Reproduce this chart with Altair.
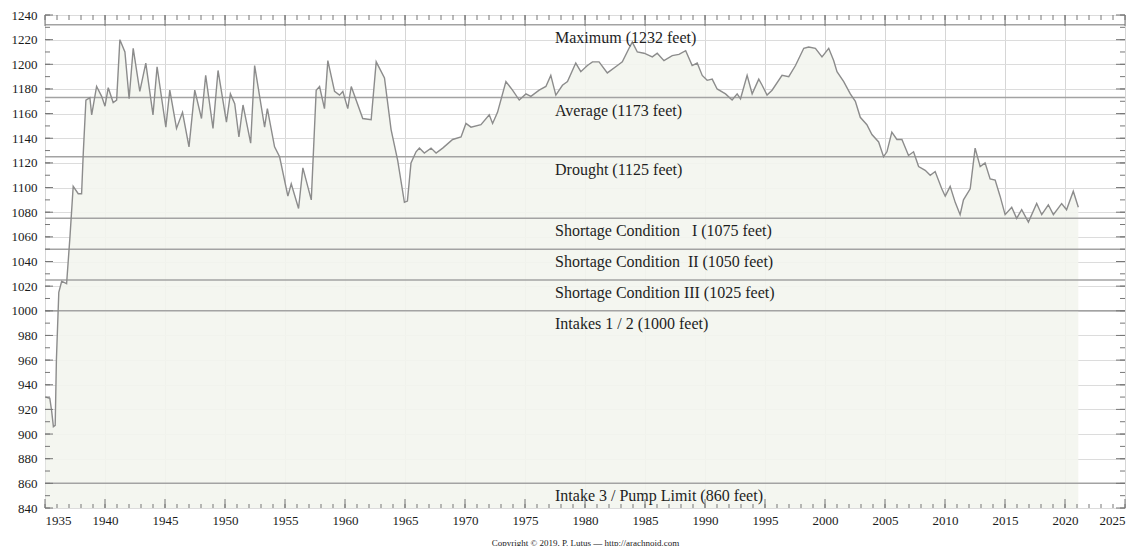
import altair as alt
import pandas as pd

# ---- data ----
years = [1935.05, 1935.4, 1935.55, 1935.7, 1935.85, 1935.95, 1936.15, 1936.39, 1936.8, 1937.08,
         1937.35, 1937.77, 1938.05, 1938.19, 1938.41, 1938.74, 1938.89, 1939.3, 1939.72, 1940.0,
         1940.27, 1940.68, 1940.97, 1941.24, 1941.66, 1942.01, 1942.35, 1942.9, 1943.4, 1944.0,
         1944.34, 1945.07, 1945.4, 1945.96, 1946.46, 1947.0, 1947.48, 1948.04, 1948.39, 1949.0,
         1949.42, 1950.12, 1950.45, 1950.81, 1951.16, 1951.5, 1952.14, 1952.47, 1953.3, 1953.53,
         1954.13, 1954.55, 1955.24, 1955.52, 1956.13, 1956.49, 1957.19, 1957.6, 1957.88, 1958.29,
         1958.57, 1959.13, 1959.54, 1959.82, 1960.23, 1960.52, 1961.48, 1962.18, 1962.6, 1963.29,
         1963.84, 1964.39, 1964.95, 1965.2, 1965.5, 1965.92, 1966.2, 1966.61, 1967.17, 1967.59,
         1968.14, 1968.97, 1969.67, 1970.08, 1970.5, 1971.33, 1972.02, 1972.3, 1972.71, 1973.41,
         1973.96, 1974.52, 1975.08, 1975.49, 1976.18, 1976.74, 1977.15, 1977.57, 1978.12, 1978.54,
         1979.23, 1979.65, 1980.2, 1980.62, 1981.17, 1981.86, 1982.7, 1983.11, 1983.67, 1983.94,
         1984.36, 1984.92, 1985.61, 1986.02, 1986.58, 1987.27, 1987.83, 1988.39, 1988.93, 1989.35,
         1989.77, 1990.18, 1990.6, 1991.01, 1991.71, 1992.26, 1992.68, 1992.96, 1993.51, 1993.93,
         1994.48, 1994.76, 1995.17, 1995.59, 1996.42, 1996.98, 1997.54, 1998.23, 1998.64, 1999.2,
         1999.75, 2000.31, 2000.72, 2001.0, 2001.56, 2002.11, 2002.53, 2002.94, 2003.49, 2003.91,
         2004.47, 2004.88, 2005.16, 2005.57, 2005.99, 2006.41, 2006.96, 2007.38, 2007.8, 2008.35,
         2008.77, 2009.18, 2009.73, 2010.02, 2010.43, 2010.85, 2011.26, 2011.54, 2012.1, 2012.51,
         2012.93, 2013.34, 2013.76, 2014.18, 2014.59, 2015.01, 2015.56, 2015.97, 2016.39, 2016.95,
         2017.64, 2018.06, 2018.61, 2019.03, 2019.72, 2020.13, 2020.69, 2021.11]
levels = [930, 929, 919, 906, 907, 960, 1015, 1024, 1022, 1060,
          1101, 1095, 1095, 1128, 1171, 1173, 1159, 1182, 1174, 1166,
          1181, 1169, 1171, 1220, 1210, 1172, 1213, 1178, 1201, 1159,
          1198, 1149, 1179, 1148, 1161, 1133, 1179, 1156, 1191, 1148,
          1195, 1153, 1176, 1168, 1141, 1167, 1136, 1199, 1149, 1164,
          1133, 1125, 1093, 1103, 1083, 1116, 1090, 1179, 1182, 1164,
          1203, 1178, 1175, 1178, 1164, 1182, 1156, 1155, 1202, 1189,
          1147, 1122, 1088, 1089, 1120, 1129, 1132, 1128, 1132, 1128,
          1132, 1139, 1141, 1152, 1149, 1151, 1159, 1152, 1161, 1186,
          1179, 1171, 1176, 1174, 1179, 1182, 1191, 1175, 1183, 1186,
          1201, 1194, 1199, 1202, 1202, 1193, 1199, 1202, 1213, 1218,
          1210, 1209, 1206, 1209, 1203, 1207, 1208, 1211, 1199, 1201,
          1191, 1187, 1188, 1180, 1176, 1171, 1176, 1172, 1191, 1176,
          1188, 1183, 1175, 1179, 1191, 1190, 1199, 1213, 1214, 1213,
          1206, 1213, 1203, 1194, 1186, 1176, 1170, 1157, 1151, 1143,
          1137, 1125, 1129, 1145, 1139, 1139, 1126, 1129, 1117, 1114,
          1110, 1113, 1099, 1093, 1101, 1088, 1078, 1090, 1099, 1132,
          1117, 1120, 1107, 1106, 1093, 1078, 1084, 1075, 1082, 1072,
          1087, 1078, 1086, 1078, 1087, 1082, 1097, 1084]

ref_values = [1232, 1173, 1125, 1075, 1050, 1025, 1000, 860]
ref_labels = ["Maximum (1232 feet)", "Average (1173 feet)", "Drought (1125 feet)",
              "Shortage Condition\u00a0\u00a0\u00a0I (1075 feet)",
              "Shortage Condition\u00a0\u00a0II (1050 feet)",
              "Shortage Condition III (1025 feet)", "Intakes 1 / 2 (1000 feet)",
              "Intake 3 / Pump Limit (860 feet)"]
label_year = 1977.5

x_ticks = list(range(1935, 2026, 5))
y_ticks = list(range(840, 1241, 20))
x_minor = list(range(1935, 2026))
y_minor = list(range(840, 1241, 10))

copyright = "Copyright \u00a9 2019, P. Lutus \u2014 http://arachnoid.com"

W, H = 1080, 493
FONT = "Liberation Serif"

df = pd.DataFrame({"year": years, "level": levels})
refs = pd.DataFrame({"value": ref_values, "label": ref_labels, "x": [label_year] * len(ref_values)})

xs = alt.Scale(domain=[1935, 2025], nice=False, zero=False)
ys = alt.Scale(domain=[840, 1240], nice=False, zero=False)

xaxis = alt.Axis(values=x_ticks, format="d", ticks=False, domain=False, grid=True,
                 gridColor="#d6d6d6", gridWidth=1, labelFont=FONT, labelFontSize=13,
                 labelColor="#1a1a1a", labelPadding=6, labelOverlap=False,
                 title=copyright, titleFont=FONT,
                 titleFontSize=9, titleFontWeight="normal", titleColor="#1a1a1a", titlePadding=11)
yaxis = alt.Axis(values=y_ticks, format="d", ticks=False, domain=False, grid=True,
                 gridColor="#dcdcdc", gridWidth=1, labelFont=FONT, labelFontSize=13,
                 labelColor="#1a1a1a", labelPadding=8, labelOverlap=False, title=None)

X = lambda f: alt.X(f, scale=xs, axis=xaxis)
Y = lambda f: alt.Y(f, scale=ys, axis=yaxis)

area = alt.Chart(df).mark_area(color="#f3f5ee", opacity=0.9).encode(
    x=X("year:Q"), y=Y("level:Q"), y2=alt.datum(840),
)

ref_rules = alt.Chart(refs).mark_rule(color="#a3a3a3", strokeWidth=1.5).encode(
    y=Y("value:Q")
)

line = alt.Chart(df).mark_line(color="#8c8c8c", strokeWidth=1.4).encode(
    x=X("year:Q"), y=Y("level:Q"),
)

ref_text = alt.Chart(refs).mark_text(
    align="left", baseline="middle", dy=13, font=FONT, fontSize=16, color="#1e1e1e"
).encode(
    x=X("x:Q"), y=Y("value:Q"), text="label:N",
)

def xtick_layer(vals, length, top):
    d = pd.DataFrame({"year": vals})
    if top:
        yv, y2v = alt.value(0), alt.value(length)
    else:
        yv, y2v = alt.value(H), alt.value(H - length)
    return alt.Chart(d).mark_rule(color="#777", strokeWidth=1).encode(
        x=X("year:Q"), y=yv, y2=y2v)

def ytick_layer(vals, length, right):
    d = pd.DataFrame({"ft": vals})
    if right:
        xv, x2v = alt.value(W), alt.value(W - length)
    else:
        xv, x2v = alt.value(0), alt.value(length)
    return alt.Chart(d).mark_rule(color="#777", strokeWidth=1).encode(
        y=Y("ft:Q"), x=xv, x2=x2v)

ticks = [
    xtick_layer(x_minor, 4, False), xtick_layer(x_ticks, 9, False),
    xtick_layer(x_minor, 5, True), xtick_layer(x_ticks, 11, True),
    ytick_layer(y_minor, 5, False), ytick_layer(y_ticks, 8, False),
    ytick_layer(y_minor, 5, True), ytick_layer(y_ticks, 9, True),
]

chart = alt.layer(area, ref_rules, line, ref_text, *ticks).properties(
    width=W, height=H,
    autosize=alt.AutoSizeParams(type="none"),
    padding={"left": 37, "top": 7, "right": 13, "bottom": 38},
).configure_view(stroke="#777", strokeWidth=1).configure(background="white")

chart.save("out.html", embed_options={"renderer": "svg", "actions": False})
